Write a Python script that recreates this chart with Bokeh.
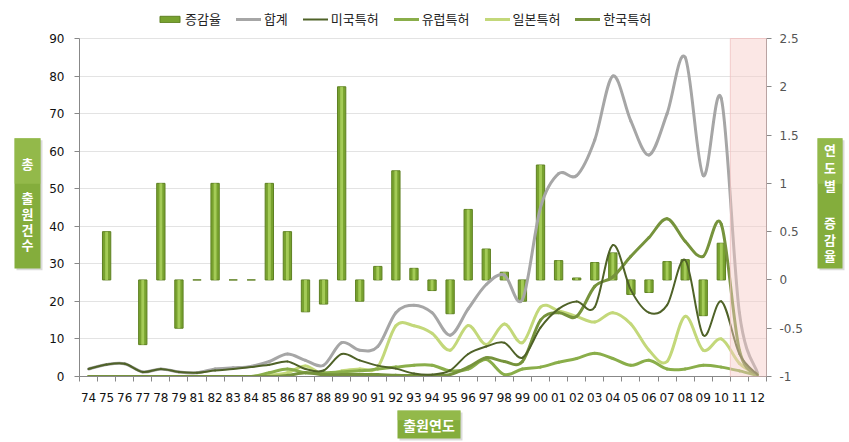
import numpy as np
from bokeh.plotting import figure
from bokeh.layouts import row, column
from bokeh.models import (Range1d, LinearAxis, FixedTicker, BoxAnnotation,
                          Legend, LegendItem, ColumnDataSource, NumeralTickFormatter)
from bokeh.core.properties import value
from bokeh.embed import file_html
from bokeh.resources import INLINE

years = ["74", "75", "76", "77", "78", "79", "81", "82", "83", "84", "85", "86", "87",
         "88", "89", "90", "91", "92", "93", "94", "95", "96", "97", "98", "99", "00",
         "01", "02", "03", "04", "05", "06", "07", "08", "09", "10", "11", "12"]

rate = [np.nan, 0.5, np.nan, -0.67, 1.0, -0.5, 0.0, 1.0, 0.0, 0.0, 1.0, 0.5, -0.33,
        -0.25, 2.0, -0.22, 0.14, 1.13, 0.12, -0.11, -0.35, 0.73, 0.32, 0.08, -0.22, 1.19,
        0.2, 0.02, 0.18, 0.28, -0.15, -0.13, 0.19, 0.21, -0.37, 0.38, np.nan, np.nan]

total = [2, 3.2, 3.4, 1.2, 2, 1.2, 1, 2, 2.3, 2.7, 4, 6, 4.3,
         3, 9, 7, 8, 17, 19, 17, 11, 18, 24.5, 27, 20.5, 45,
         54, 53.5, 63, 80, 68, 59, 70, 85, 53.5, 74, 17, 1]

usa = [2, 3.2, 3.4, 1.2, 2, 1.2, 1, 1.6, 2, 2.5, 3.1, 4, 2,
       1.6, 6, 4.3, 2.9, 2.1, 0.8, 0.5, 1.6, 6, 8, 9, 5, 13,
       18, 20, 18.5, 35, 23, 17, 19, 31, 11, 20, 6, 0.5]

europe = [0, 0, 0, 0, 0, 0, 0, 0, 0, 0, 1, 2, 1,
          1, 1.2, 1.5, 2, 2.5, 3, 3, 1.5, 2, 4.5, 0.5, 2, 2.5,
          3.8, 4.8, 6.2, 4.8, 3, 4.3, 2, 2, 3, 2.5, 1.5, 0.3]

japan = [0, 0, 0, 0, 0, 0, 0, 0, 0, 0, 0.3, 1, 2.8,
         0.5, 1.5, 2, 2.5, 13.5, 13.5, 11.5, 7, 13.6, 8.5, 14, 9, 18.5,
         17.5, 16, 14.5, 17, 14, 7, 4, 16, 7, 10, 3.5, 0.5]

korea = [0, 0, 0, 0, 0, 0, 0, 0, 0, 0, 0, 0.3, 1,
         0.5, 0.5, 0.5, 0.5, 0.3, 0.3, 0.3, 0.5, 2.5, 5, 4, 4, 15,
         17, 16, 24, 26.5, 32, 37, 42, 36, 32, 40.5, 7, 0.5]

left_ticks = [0, 10, 20, 30, 40, 50, 60, 70, 80, 90]
right_ticks = [-1, -0.5, 0, 0.5, 1, 1.5, 2, 2.5]

left_title = ["총", "출", "원", "건", "수"]
right_title = ["연", "도", "별", "증", "감", "율"]
bottom_title = "출원연도"

FONT = "DejaVu Sans"
KFONT = "Noto Sans CJK KR"
BOX = "#84AD3C"
BOX_TOP = "#9CC253"

n = len(years)
xc = [i + 0.5 for i in range(n)]

# frame spans canvas y 5..376 so that the legend sits inside it; the axes are bounded
FRAME_TOP, AXIS_TOP, FRAME_BOTTOM = 5, 38, 376
stretch = (FRAME_BOTTOM - FRAME_TOP) / (FRAME_BOTTOM - AXIS_TOP)
lmin, lmax = left_ticks[0], left_ticks[-1]
rmin, rmax = right_ticks[0], right_ticks[-1]

p = figure(width=766, height=405, x_range=Range1d(0, n),
           y_range=Range1d(lmin, lmin + (lmax - lmin) * stretch),
           output_backend="svg", toolbar_location=None, title=None,
           min_border_left=35, min_border_right=44, min_border_top=FRAME_TOP,
           min_border_bottom=405 - FRAME_BOTTOM)
p.outline_line_color = None
p.extra_y_ranges = {"rate": Range1d(rmin, rmin + (rmax - rmin) * stretch)}

p.xaxis.ticker = FixedTicker(ticks=xc, minor_ticks=list(range(n + 1)))
p.xaxis.major_label_overrides = {xc[i]: years[i] for i in range(n)}
p.xaxis.major_tick_line_color = None
p.xaxis.major_tick_out = 0
p.xaxis.minor_tick_out = 5
p.xaxis.minor_tick_in = 0
p.xaxis.minor_tick_line_color = "#888888"
p.xaxis.axis_line_color = "#888888"
p.xaxis.major_label_standoff = 11
p.xaxis.major_label_text_font = FONT
p.xaxis.major_label_text_font_size = "12px"
p.xaxis.major_label_text_color = "#111111"

p.yaxis.ticker = FixedTicker(ticks=left_ticks)
p.yaxis.bounds = (lmin, lmax)
p.yaxis.minor_tick_line_color = None
p.yaxis.major_tick_out = 5
p.yaxis.major_tick_in = 0
p.yaxis.major_tick_line_color = "#888888"
p.yaxis.axis_line_color = "#888888"
p.yaxis.major_label_standoff = 10
p.yaxis.major_label_text_font = FONT
p.yaxis.major_label_text_font_size = "12px"
p.yaxis.major_label_text_color = "#111111"

rax = LinearAxis(y_range_name="rate", ticker=FixedTicker(ticks=right_ticks),
                 bounds=(rmin, rmax), formatter=NumeralTickFormatter(format="0.[0]"))
rax.minor_tick_line_color = None
rax.major_tick_out = 5
rax.major_tick_in = 0
rax.major_tick_line_color = "#888888"
rax.axis_line_color = "#888888"
rax.major_label_standoff = 8
rax.major_label_text_font = FONT
rax.major_label_text_font_size = "12px"
rax.major_label_text_color = "#555555"
p.add_layout(rax, "right")

p.xgrid.grid_line_color = None
p.ygrid.grid_line_color = "#E3E3E3"

r = np.array(rate, dtype=float)
bar_src = ColumnDataSource(dict(x=xc, top=np.maximum(r, 0), bottom=np.minimum(r, 0)))
bars = p.vbar(x="x", top="top", bottom="bottom", width=0.46, source=bar_src,
              y_range_name="rate", fill_color="#78A22F", line_color="#5E8022", line_width=1)
p.vbar(x="x", top="top", bottom="bottom", width=0.16, source=bar_src,
       y_range_name="rate", fill_color="#B3D865", fill_alpha=0.75, line_color=None)


def smooth(vals):
    xs = np.array(xc, dtype=float)
    ys = np.array(vals, dtype=float)
    m = len(xs)
    d = dict(x0=[], y0=[], x1=[], y1=[], cx0=[], cy0=[], cx1=[], cy1=[])
    for i in range(m - 1):
        a = i - 1 if i > 0 else i
        b = i + 2 if i + 2 < m else i + 1
        d["x0"].append(xs[i]); d["y0"].append(ys[i])
        d["x1"].append(xs[i + 1]); d["y1"].append(ys[i + 1])
        d["cx0"].append(xs[i] + (xs[i + 1] - xs[a]) / 6)
        d["cy0"].append(ys[i] + (ys[i + 1] - ys[a]) / 6)
        d["cx1"].append(xs[i + 1] - (xs[b] - xs[i]) / 6)
        d["cy1"].append(ys[i + 1] - (ys[b] - ys[i]) / 6)
    return ColumnDataSource(d)


def curve(vals, color, w):
    return p.bezier(x0="x0", y0="y0", x1="x1", y1="y1", cx0="cx0", cy0="cy0",
                    cx1="cx1", cy1="cy1", source=smooth(vals), line_color=color,
                    line_width=w, line_cap="round")


r_total = curve(total, "#A6A6A6", 3)
r_jp = curve(japan, "#C3D87A", 3)
r_eu = curve(europe, "#8AAE4A", 3)
r_kr = curve(korea, "#76933C", 3)
r_us = curve(usa, "#4F6228", 2)

p.add_layout(BoxAnnotation(left=n - 2, right=n, bottom=lmin, top=lmax, fill_color="#F6C9C6",
                           fill_alpha=0.45, line_color="#F0C0C0", line_alpha=0.8))

legend = Legend(items=[
    LegendItem(label="증감율", renderers=[bars]),
    LegendItem(label="합계", renderers=[r_total]),
    LegendItem(label="미국특허", renderers=[r_us]),
    LegendItem(label="유럽특허", renderers=[r_eu]),
    LegendItem(label="일본특허", renderers=[r_jp]),
    LegendItem(label="한국특허", renderers=[r_kr]),
], orientation="horizontal", location=(78, 348))
legend.padding = 0
legend.margin = 0
legend.spacing = 15
legend.label_standoff = 3
legend.glyph_width = 25
legend.glyph_height = 8
legend.label_height = 16
legend.label_text_font = KFONT
legend.label_text_font_size = "13px"
legend.label_text_color = "#222222"
legend.background_fill_alpha = 0
legend.border_line_color = None
p.add_layout(legend, "center")


# ---------------- title strips ----------------
def strip(w, h):
    s = figure(width=w, height=h, x_range=Range1d(0, w), y_range=Range1d(h, 0),
               output_backend="svg", toolbar_location=None, title=None,
               x_axis_type=None, y_axis_type=None, min_border=0)
    s.outline_line_color = None
    s.grid.visible = False
    return s


def title_box(s, l, rgt, t, b):
    s.quad(left=l + 2, right=rgt + 2, top=t + 2, bottom=b + 2, fill_color="#999999",
           fill_alpha=0.35, line_color=None)
    s.quad(left=l, right=rgt, top=t, bottom=b, fill_color=BOX, line_color=None)
    s.quad(left=l, right=rgt, top=t, bottom=t + (b - t) * 0.35, fill_color=BOX_TOP,
           fill_alpha=0.6, line_color=None)


ls = strip(44, 405)
title_box(ls, 14, 40, 145, 287)
ls.text(x=[27] * len(left_title), y=[172, 210, 227, 244, 261], text=left_title,
        text_align="center", text_baseline="middle", text_color="white",
        text_font=value(KFONT), text_font_size="13px", text_font_style="bold")

rs = strip(39, 405)
title_box(rs, 7, 32, 145, 287)
rs.text(x=[19.5] * len(right_title), y=[157, 177, 197, 237, 255, 273], text=right_title,
        text_align="center", text_baseline="middle", text_color="white",
        text_font=value(KFONT), text_font_size="13px", text_font_style="bold")

bs = strip(849, 37)
title_box(bs, 397, 460, 5, 33)
bs.text(x=[428.5], y=[19], text=[bottom_title], text_align="center", text_baseline="middle",
        text_color="white", text_font=value(KFONT), text_font_size="14px",
        text_font_style="bold")

layout = column(row(ls, p, rs, spacing=0), bs, spacing=0)
open("out.html", "w").write(file_html(layout, INLINE))
